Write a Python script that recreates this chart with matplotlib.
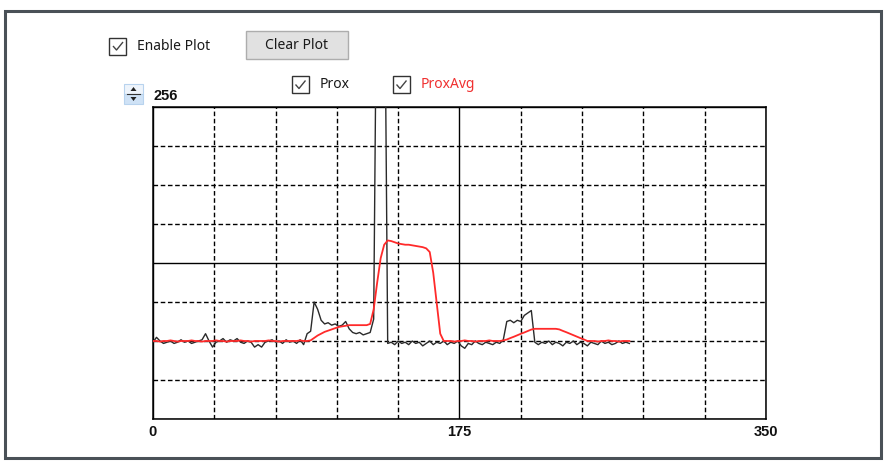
import numpy as np
import matplotlib
matplotlib.use("Agg")
import matplotlib.pyplot as plt
from matplotlib.patches import Rectangle, Polygon
from matplotlib.ticker import MultipleLocator, FixedLocator

plt.rcParams['lines.scale_dashes'] = False

# sample index (every 2 samples) and the two traces
x = np.arange(0, 274, 2)
prox = [63, 67, 64, 62, 63, 64, 62, 63, 65, 63, 64, 62, 63, 64, 65, 70, 64, 59, 63, 64,
        66, 63, 65, 64, 66, 63, 62, 64, 63, 59, 61, 59, 63, 64, 65, 63, 64, 62, 65, 63,
        64, 62, 65, 61, 70, 72, 96, 90, 81, 78, 79, 77, 78, 76, 77, 80, 74, 71, 70, 71,
        69, 70, 71, 82, 420, 420, 420, 62,
        63, 61, 64, 62, 63, 61, 64, 62, 63, 60, 62, 64, 61, 63, 62, 64, 61, 63, 62, 64,
        60, 58, 62, 61, 64, 62, 61, 63, 62, 61, 63, 62, 65, 80, 81, 79, 81, 80, 85, 87,
        89, 63, 61, 63, 62, 64, 61, 63, 62, 60, 63, 62, 64, 61, 63, 62, 60, 63, 62, 61,
        64, 62, 63, 61, 62, 64, 62, 63, 62]
prox_avg = [64, 64, 63.5, 64, 64, 64.5, 64, 63.5, 64, 64, 64, 64.5, 64, 64, 63.5, 64, 64, 64, 64.5, 64,
            64, 63.5, 64, 64, 64, 64.5, 64, 64, 63.5, 64, 64, 64, 64, 64.5, 64, 64, 63.5, 64, 64, 64,
            64, 64, 64.5, 64, 64,
            64.5, 66.5, 68.5, 70, 71.5, 72.5, 73.5, 74.5, 75.5, 76, 76.5, 77, 77, 77, 77, 77, 77, 78,
            90, 112, 132, 143, 146.5, 146, 145, 144, 143.5, 143, 143, 142.5, 142, 141.5, 141, 140,
            137, 120, 95, 70, 64,
            64, 64, 63.5, 64, 64, 64.5, 64, 64, 63.5, 64, 64, 64, 64.5, 64, 64, 64,
            64.5, 65.2, 66.4, 67.5, 68.7, 69.9, 71, 72.2, 73.4, 74, 74, 74, 74, 74, 74, 74,
            73.5, 72.3, 71.2, 70, 68.8, 67.6, 66.4, 65.3, 64,
            64, 64, 63.5, 64, 64, 64.5, 64, 64, 63.5, 64, 64, 64]
x_ticks = [0, 175, 350]
y_top_label = "256"

W, H = 887, 467
fig = plt.figure(figsize=(W / 100, H / 100), dpi=100)
fig.patch.set_facecolor('white')

# overlay in pixel coordinates for the form controls
ov = fig.add_axes([0, 0, 1, 1])
ov.set_xlim(0, W)
ov.set_ylim(H, 0)
ov.axis('off')

ov.add_patch(Rectangle((5.5, 10.5), 876, 447.5, fill=False, ec='#4a5157', lw=2.2))


def checkbox(x0, y0, label, color='#1a1a1a'):
    ov.add_patch(Rectangle((x0, y0), 17, 17, fc='white', ec='#333333', lw=1.0))
    ov.plot([x0 + 3.5, x0 + 7, x0 + 13.5], [y0 + 8.5, y0 + 12.5, y0 + 4.5],
            color='#444444', lw=1.0, solid_capstyle='butt')
    ov.text(x0 + 27.5, y0 + 8.8, label, ha='left', va='center', fontsize=10,
            family='Noto Sans', color=color)


checkbox(109.5, 37.5, "Enable Plot")
checkbox(292, 76, "Prox")
checkbox(393, 76, "ProxAvg", color='#f03030')

# Clear Plot button
ov.add_patch(Rectangle((245.7, 30.7), 102.6, 28.3, fc='#e1e1e1', ec='#adadad', lw=1.0))
ov.text(297, 45.5, "Clear Plot", ha='center', va='center', fontsize=10,
        family='Noto Sans', color='#1a1a1a')

# spinner icon + max value
ov.add_patch(Rectangle((124, 84), 19, 10, fc='#eef4fb', ec='#b8d3ee', lw=0.8))
ov.add_patch(Rectangle((124, 94), 19, 10, fc='#cfe2f6', ec='#b8d3ee', lw=0.8))
ov.add_patch(Polygon([[130.5, 91], [136.5, 91], [133.5, 87]], closed=True, fc='#222222', ec='none'))
ov.add_patch(Polygon([[130.5, 97], [136.5, 97], [133.5, 101]], closed=True, fc='#222222', ec='none'))
ov.plot([127, 140], [94, 94], color='#333333', lw=0.8)
ov.text(154, 95.5, y_top_label, ha='left', va='center', fontsize=10.5,
        family='Liberation Sans', fontweight='bold', color='#111111')

# plot area
ax = fig.add_axes([153 / W, (H - 419) / H, 613 / W, 312 / H])
ax.plot(x, prox, color='#2a2a2a', lw=1.0, zorder=3)
ax.plot(x, prox_avg, color='#ff2a2a', lw=1.3, zorder=4)
ax.set_xlim(0, 350)
ax.set_ylim(0, 256)

ax.xaxis.set_major_locator(FixedLocator(x_ticks))
ax.xaxis.set_minor_locator(MultipleLocator(35))
ax.yaxis.set_major_locator(MultipleLocator(128))
ax.yaxis.set_minor_locator(MultipleLocator(32))
ax.grid(which='major', color='black', lw=1.0, ls='-')
ax.grid(which='minor', color='black', lw=1.0, dashes=(3.3, 1.9))
ax.set_axisbelow(True)
ax.tick_params(which='both', length=0)
ax.tick_params(axis='x', pad=4)
ax.set_yticklabels([])
ax.set_xticklabels([str(t) for t in x_ticks], fontsize=10.5,
                   family='Liberation Sans', fontweight='bold', color='#111111')
for s in ax.spines.values():
    s.set_linewidth(1.1)
    s.set_color('black')

fig.savefig('out.png', dpi=100, facecolor='white')
